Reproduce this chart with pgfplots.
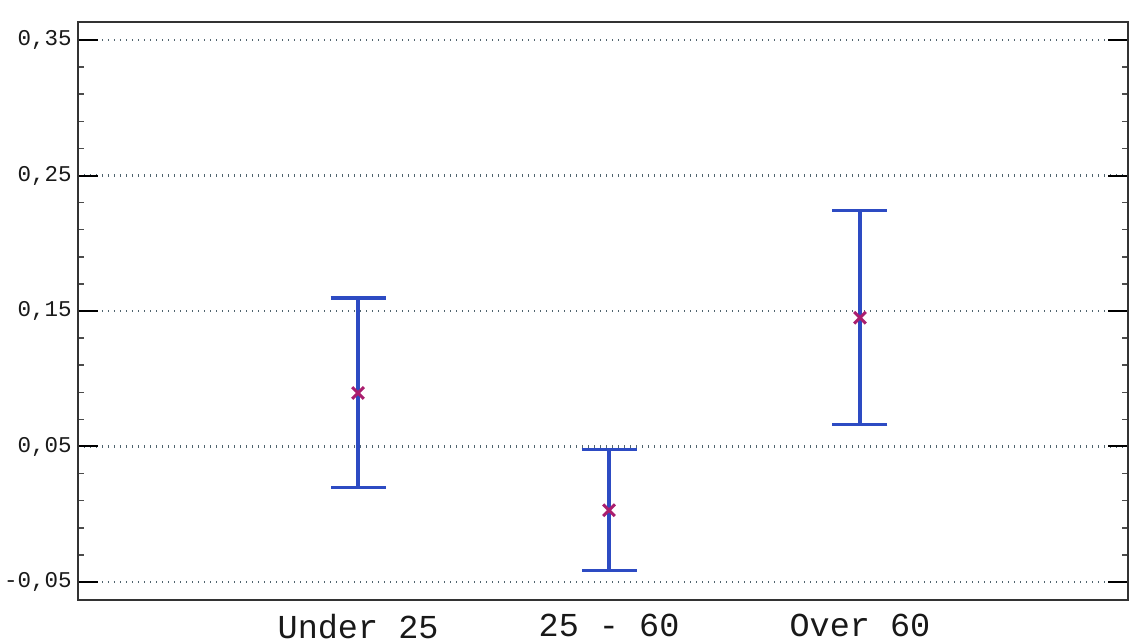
\documentclass[border=0pt]{standalone}
\usepackage{pgfplots}
\pgfplotsset{compat=1.18}
\usepackage{fontspec}
\setmainfont{Liberation Mono}
\definecolor{barblue}{RGB}{45,75,195}
\definecolor{meanmark}{RGB}{170,30,110}
\definecolor{gridc}{RGB}{80,100,110}
\begin{document}
\begin{tikzpicture}
\begin{axis}[
  scale only axis,
  width=420pt, height=231.2pt,
  xmin=-0.116, xmax=4.068,
  ymin=-0.0633, ymax=0.3633,
  xtick={1,2,3},
  xticklabels={Under 25,25 - 60,Over 60},
  x tick label style={font=\fontsize{13.4}{13.4}\selectfont, text=black!90},
  major x tick style={draw=none},
  ytick={-0.05,0.05,0.15,0.25,0.35},
  minor y tick num=4,
  y tick label style={font=\fontsize{9}{9}\selectfont, text=black!90},
  yticklabel style={/pgf/number format/.cd, fixed, fixed zerofill, precision=2, use comma, assume math mode=true},
  tick align=inside,
  ytick pos=both,
  major tick length=8pt,
  minor tick length=2.5pt,
  major y tick style={black, line width=0.8pt},
  minor y tick style={black!70, line width=0.6pt},
  ymajorgrids,
  major grid style={gridc, dotted, line width=1.1pt},
  axis line style={black!80, line width=0.9pt},
  xticklabel shift=2pt,
  yticklabel shift=-1pt,
  clip=false,
]
\addplot[
  only marks,
  mark=x, mark size=3.3pt,
  mark options={meanmark, line width=1.2pt},
  error bars/.cd,
    y dir=both, y explicit,
    error mark=|,
    error mark options={barblue, line width=1.3pt, mark size=11pt},
    error bar style={barblue, line width=1.3pt},
] coordinates {
  (1,0.0895) +- (0,0.0700)
  (2,0.0030) +- (0,0.0447)
  (3,0.1450) +- (0,0.0790)
};
\end{axis}
\pgfresetboundingbox
\path[use as bounding box] (-31.2pt,-16.8pt) rectangle (423.2pt,240pt);
\end{tikzpicture}
\end{document}
